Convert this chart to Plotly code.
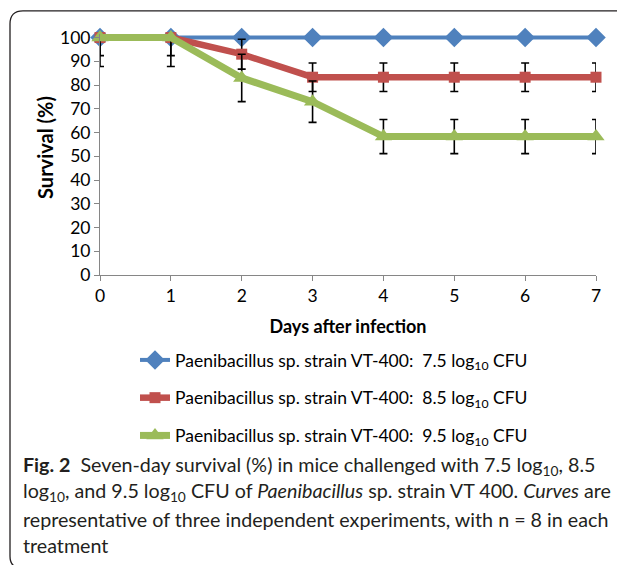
import plotly.graph_objects as go

# ---------------- data ----------------
days = [0, 1, 2, 3, 4, 5, 6, 7]
x_tick_labels = ["0", "1", "2", "3", "4", "5", "6", "7"]
y_tick_values = [0, 10, 20, 30, 40, 50, 60, 70, 80, 90, 100]

name_75 = "Paenibacillus sp. strain VT-400:\u00a0\u00a07.5 log<sub>10</sub> CFU"
name_85 = "Paenibacillus sp. strain VT-400:\u00a0\u00a08.5 log<sub>10</sub> CFU"
name_95 = "Paenibacillus sp. strain VT-400:\u00a0\u00a09.5 log<sub>10</sub> CFU"

surv_75 = [100, 100, 100, 100, 100, 100, 100, 100]
surv_85 = [100, 100, 93, 83.3, 83.3, 83.3, 83.3, 83.3]
surv_95 = [100, 100, 83, 73, 58.3, 58.3, 58.3, 58.3]

# error bars (upper parts above 100 are clipped in the original)
err_up_75 = [0, 0, 0, 0, 0, 0, 0, 0]
err_dn_75 = [0, 0, 1.7, 1.7, 1.7, 1.7, 1.7, 1.7]
err_up_85 = [0, 0, 6.3, 6, 6, 6, 6, 6]
err_dn_85 = [7.6, 7.6, 6.3, 6, 6, 6, 6, 6]
err_up_95 = [0, 0, 10, 8.7, 7.2, 7.2, 7.2, 7.2]
err_dn_95 = [12.2, 12.2, 10, 8.7, 7.2, 7.2, 7.2, 7.2]

x_title = "<b>Days after infection</b>"
y_title = "<b>Survival (%)</b>"

caption_lines = [
    "<b>Fig. 2</b>\u00a0\u00a0Seven-day survival (%) in mice challenged with 7.5 log<sub>10</sub>, 8.5",
    "log<sub>10</sub>, and 9.5 log<sub>10</sub> CFU of <i>Paenibacillus</i> sp. strain VT 400. <i>Curves</i> are",
    "representative of three independent experiments, with n = 8 in each",
    "treatment",
]

# ---------------- layout geometry ----------------
# The page body has an 8px margin, so the figure is drawn 8px smaller and
# the plot area is placed at the same absolute pixel position as the reference.
PAGE_OFF = 8
W, H = 625 - PAGE_OFF, 565 - PAGE_OFF
Y_TOP = 101.5                   # small headroom so the 100% line is not clipped
ABS_L, ABS_R, ABS_B = 100, 596, 275
PX_PER_UNIT = 2.373
ABS_T = ABS_B - PX_PER_UNIT * Y_TOP
L, T = ABS_L - PAGE_OFF, ABS_T - PAGE_OFF
R = W - (ABS_R - PAGE_OFF)
B = H - (ABS_B - PAGE_OFF)
PW, PH = ABS_R - ABS_L, ABS_B - ABS_T


def px(xa):
    return (xa - ABS_L) / PW


def py(ya):
    return (ABS_B - ya) / PH


BLUE, RED, GREEN = "#4F81BD", "#C0504D", "#9BBB59"
CHART_FONT = "Lato"

fig = go.Figure()


def add_series(y, up, dn, name, color, width, symbol, msize):
    fig.add_trace(go.Scatter(
        x=days, y=y, name=name, mode="lines+markers",
        line=dict(color=color, width=width),
        marker=dict(color=color, symbol=symbol, size=msize),
        error_y=dict(type="data", symmetric=False, array=up, arrayminus=dn,
                     color="black", thickness=1.6, width=4),
        cliponaxis=False,
        legendgroup=name,
    ))


add_series(surv_75, err_up_75, err_dn_75, name_75, BLUE, 4, "diamond", 15)
add_series(surv_85, err_up_85, err_dn_85, name_85, RED, 6.5, "square", 11)
add_series(surv_95, err_up_95, err_dn_95, name_95, GREEN, 7, "triangle-up", 15)

axis_common = dict(
    showgrid=False, zeroline=False, showline=True, linecolor="#868686",
    linewidth=1, ticks="outside", tickcolor="#868686", ticklen=5,
    tickfont=dict(family=CHART_FONT, size=17.5, color="black"),
)

fig.update_xaxes(range=[0, 7], tickvals=days, ticktext=x_tick_labels,
                 title=dict(text=x_title,
                            font=dict(family=CHART_FONT, size=18, color="black"),
                            standoff=15),
                 **axis_common)
fig.update_yaxes(range=[0, Y_TOP], tickvals=y_tick_values, **axis_common)

annotations = [dict(
    text=y_title, x=px(45), y=py(148), xref="paper", yref="paper",
    xanchor="center", yanchor="middle", showarrow=False, textangle=-90,
    font=dict(family=CHART_FONT, size=20, color="black"),
)]
caption_y = [466, 492, 519, 545]
for txt, yy in zip(caption_lines, caption_y):
    annotations.append(dict(
        text=txt, x=px(21), y=py(yy), xref="paper", yref="paper",
        xanchor="left", yanchor="middle", showarrow=False, align="left",
        font=dict(family="Lato", size=19.7, color="#231f20"),
    ))

frame_path = (
    f"M {px(10)},{py(556)} L {px(10)},{py(24)} "
    f"Q {px(10)},{py(11)} {px(23)},{py(11)} L {px(630)},{py(11)}"
    f" M {px(10)},{py(556)} Q {px(10)},{py(568)} {px(22)},{py(568)}"
)

fig.update_layout(
    width=W, height=H,
    margin=dict(l=L, r=R, t=T, b=B, autoexpand=False),
    paper_bgcolor="white", plot_bgcolor="white",
    showlegend=True,
    legend=dict(x=px(135), y=py(342), xanchor="left", yanchor="top",
                orientation="v", tracegroupgap=12,
                font=dict(family=CHART_FONT, size=17.5, color="black"),
                bgcolor="rgba(0,0,0,0)"),
    annotations=annotations,
    shapes=[dict(type="path", path=frame_path, xref="paper", yref="paper",
                 line=dict(color="#231f20", width=1.3))],
)

fig.write_html("out.html")
